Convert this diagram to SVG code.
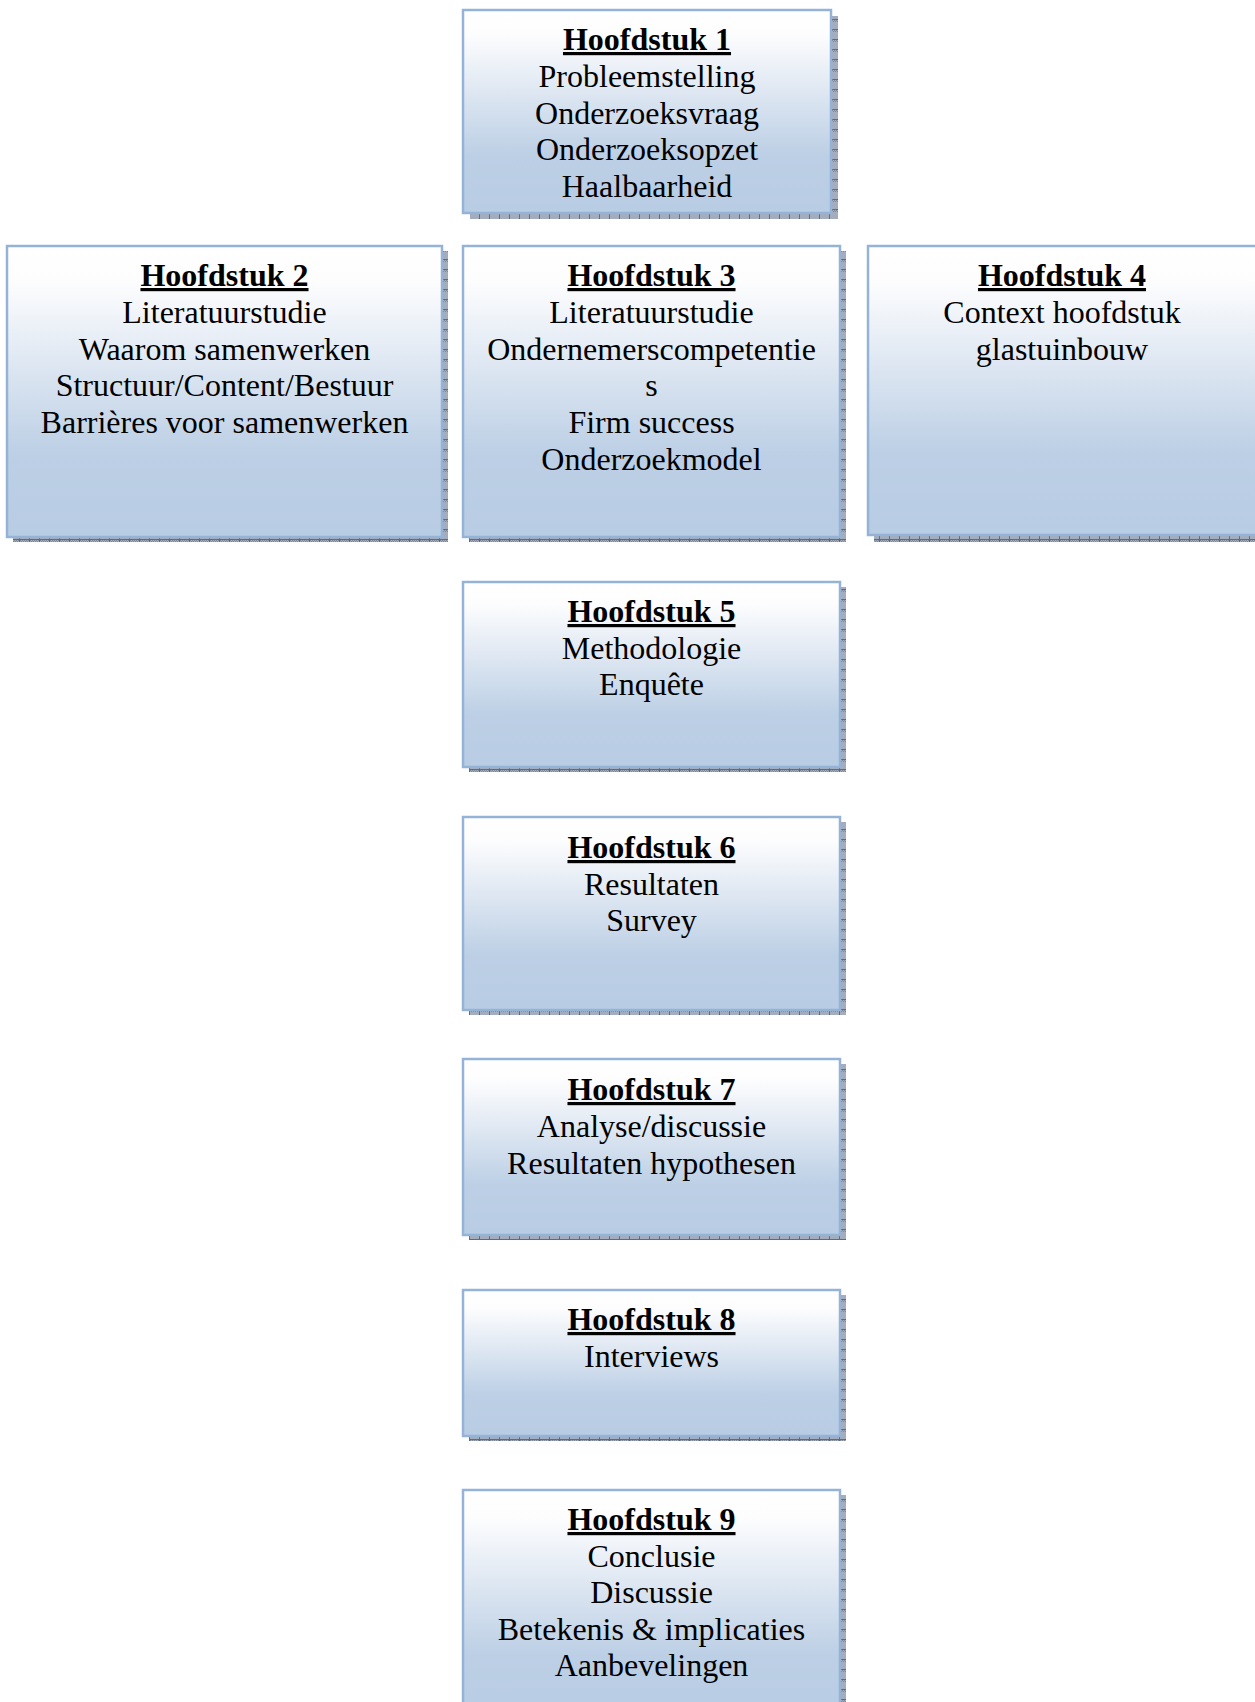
<svg xmlns="http://www.w3.org/2000/svg" width="1255" height="1702" viewBox="0 0 1255 1702">
  <style>
    .box { fill: url(#grad); stroke: #95b3d7; stroke-width: 2.5; }
    .shadow { fill: url(#hatch); }
    text { font-family: "Liberation Serif", "Times New Roman", serif; font-size: 32px; fill: #000; text-anchor: middle; }
    .title { font-weight: bold; text-decoration: underline; text-decoration-thickness: 2.5px; }
  </style>
  <defs>
    <linearGradient id="grad" x1="0" y1="0" x2="0" y2="1">
      <stop offset="0" stop-color="#ffffff"/>
      <stop offset="0.12" stop-color="#fdfdfe"/>
      <stop offset="0.72" stop-color="#bccfe5"/>
      <stop offset="1" stop-color="#b8cce4"/>
    </linearGradient>
    <pattern id="hatch" x="0" y="0" width="10" height="10" patternUnits="userSpaceOnUse">
      <rect width="10" height="10" fill="#a3adbd"/>
      <rect x="0" y="0" width="1" height="1" fill="#7d889b"/>
      <rect x="2" y="0" width="1" height="1" fill="#7d889b"/>
      <rect x="4" y="0" width="1" height="1" fill="#7d889b"/>
      <rect x="6" y="0" width="1" height="1" fill="#7d889b"/>
      <rect x="8" y="0" width="1" height="1" fill="#7d889b"/>
      <rect x="1" y="1" width="1" height="1" fill="#7d889b"/>
      <rect x="3" y="1" width="1" height="1" fill="#7d889b"/>
      <rect x="5" y="1" width="1" height="1" fill="#7d889b"/>
      <rect x="7" y="1" width="1" height="1" fill="#7d889b"/>
      <rect x="9" y="1" width="1" height="1" fill="#7d889b"/>
      <rect x="0" y="9" width="10" height="1" fill="#5f6b80"/>
      <rect x="9" y="0" width="1" height="10" fill="#5f6b80"/>
    </pattern>
  </defs>

  <g id="connectors"></g>

  <g id="node1">
    <rect class="shadow" x="470" y="16" width="368" height="203"/>
    <rect class="box" x="463" y="10" width="368" height="203"/>
    <text class="title" x="647" y="50">Hoofdstuk 1</text>
    <text x="647" y="86.8">Probleemstelling</text>
    <text x="647" y="123.6">Onderzoeksvraag</text>
    <text x="647" y="160.4">Onderzoeksopzet</text>
    <text x="647" y="197.2">Haalbaarheid</text>
  </g>

  <g id="node2">
    <rect class="shadow" x="13" y="251" width="435" height="291"/>
    <rect class="box" x="7" y="246" width="435" height="291"/>
    <text class="title" x="224.5" y="286">Hoofdstuk 2</text>
    <text x="224.5" y="322.8">Literatuurstudie</text>
    <text x="224.5" y="359.6">Waarom samenwerken</text>
    <text x="224.5" y="396.4">Structuur/Content/Bestuur</text>
    <text x="224.5" y="433.2">Barrières voor samenwerken</text>
  </g>

  <g id="node3">
    <rect class="shadow" x="469" y="251" width="377" height="291"/>
    <rect class="box" x="463" y="246" width="377" height="291"/>
    <text class="title" x="651.5" y="286">Hoofdstuk 3</text>
    <text x="651.5" y="322.8">Literatuurstudie</text>
    <text x="651.5" y="359.6">Ondernemerscompetentie</text>
    <text x="651.5" y="396.4">s</text>
    <text x="651.5" y="433.2">Firm success</text>
    <text x="651.5" y="470">Onderzoekmodel</text>
  </g>

  <g id="node4">
    <rect class="shadow" x="874" y="251" width="390" height="291"/>
    <rect class="box" x="868" y="246" width="390" height="289"/>
    <text class="title" x="1062" y="286">Hoofdstuk 4</text>
    <text x="1062" y="322.8">Context hoofdstuk</text>
    <text x="1062" y="359.6">glastuinbouw</text>
  </g>

  <g id="node5">
    <rect class="shadow" x="469" y="587" width="377" height="185"/>
    <rect class="box" x="463" y="582" width="377" height="185"/>
    <text class="title" x="651.5" y="622">Hoofdstuk 5</text>
    <text x="651.5" y="658.5">Methodologie</text>
    <text x="651.5" y="695.3">Enquête</text>
  </g>

  <g id="node6">
    <rect class="shadow" x="469" y="822" width="377" height="193"/>
    <rect class="box" x="463" y="817" width="377" height="193"/>
    <text class="title" x="651.5" y="858">Hoofdstuk 6</text>
    <text x="651.5" y="894.5">Resultaten</text>
    <text x="651.5" y="931.3">Survey</text>
  </g>

  <g id="node7">
    <rect class="shadow" x="469" y="1064" width="377" height="176"/>
    <rect class="box" x="463" y="1059" width="377" height="176"/>
    <text class="title" x="651.5" y="1100">Hoofdstuk 7</text>
    <text x="651.5" y="1136.5">Analyse/discussie</text>
    <text x="651.5" y="1173.5">Resultaten hypothesen</text>
  </g>

  <g id="node8">
    <rect class="shadow" x="469" y="1295" width="377" height="146"/>
    <rect class="box" x="463" y="1290" width="377" height="146"/>
    <text class="title" x="651.5" y="1330">Hoofdstuk 8</text>
    <text x="651.5" y="1366.5">Interviews</text>
  </g>

  <g id="node9">
    <rect class="shadow" x="469" y="1495" width="377" height="230"/>
    <rect class="box" x="463" y="1490" width="377" height="230"/>
    <text class="title" x="651.5" y="1530">Hoofdstuk 9</text>
    <text x="651.5" y="1566.6">Conclusie</text>
    <text x="651.5" y="1603.2">Discussie</text>
    <text x="651.5" y="1639.8">Betekenis &amp; implicaties</text>
    <text x="651.5" y="1676.4">Aanbevelingen</text>
  </g>
</svg>
